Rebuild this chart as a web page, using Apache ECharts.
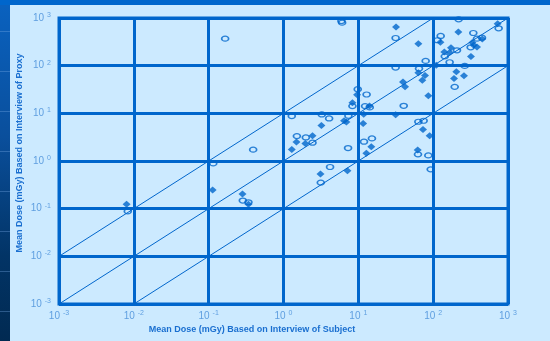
<!DOCTYPE html>
<html>
<head>
<meta charset="utf-8">
<script src="https://cdn.jsdelivr.net/npm/echarts@6/dist/echarts.min.js"></script>
<style>
html,body{margin:0;padding:0;width:550px;height:341px;overflow:hidden;background:#0066cc;}
#frame{position:absolute;left:0;top:0;width:550px;height:341px;
 background:linear-gradient(to bottom,#0a62c0 0%,#0a4f9c 40%,#023466 75%,#012a52 100%);}
#stripes{position:absolute;left:0;top:0;width:10px;height:341px;
 background:repeating-linear-gradient(to bottom,transparent 0px,transparent 31px,rgba(120,170,230,0.35) 31px,rgba(120,170,230,0.35) 32px,transparent 32px,transparent 40px);}
#topbar{position:absolute;left:0;top:0;width:550px;height:5px;background:#0066cc;}
#panel{position:absolute;left:10px;top:5px;width:540px;height:336px;background:#cceaff;}
#chart{position:absolute;left:0;top:0;width:550px;height:341px;}
</style>
</head>
<body>
<div id="frame"></div>
<div id="stripes"></div>
<div id="topbar"></div>
<div id="panel"></div>
<div id="chart"></div>
<script>
// Tick exponents (10^n)
var tickExponents = [-3, -2, -1, 0, 1, 2, 3];

// Filled diamonds: subject dose (x) vs proxy dose (y), mGy
var diamondX = [0.008, 0.113, 0.283, 0.34, 1.29, 1.49, 1.96, 2.44, 3.21, 3.12, 6.45, 6.93, 7.15, 8.34, 9.62, 11.8, 11.6, 14.1, 14.9, 12.8, 31.5, 31.9, 39.5, 42.1, 63.4, 63.4, 71.6, 77.8, 73.1, 86.2, 62.1, 89.7, 110, 125, 141, 166, 173, 204, 190, 217, 258, 320, 334, 348, 385, 453, 727];
var diamondY = [0.124, 0.247, 0.203, 0.124, 1.75, 2.49, 2.34, 3.39, 5.57, 0.533, 6.98, 6.55, 0.626, 16.6, 24.4, 9.62, 6.14, 14.2, 1.99, 1.45, 9.31, 649, 45.7, 35.9, 290, 70.6, 49.5, 62.1, 4.59, 23.3, 1.70, 3.39, 102, 310, 194, 188, 239, 74.1, 53.7, 509, 61.1, 155, 305, 268, 247, 363, 760];

// Open circles
var circleX = [0.0083, 0.115, 0.166, 0.286, 0.34, 0.393, 1.29, 1.51, 1.99, 2.44, 3.15, 3.25, 4.07, 4.19, 5.94, 6.07, 7.29, 7.37, 8.34, 9.82, 12.9, 12.3, 14.2, 11.9, 15.2, 31.5, 31.5, 40.4, 63.4, 74.6, 62.7, 86.2, 92.7, 64.7, 79.4, 114, 126, 143, 166, 194, 208, 219, 264, 317, 344, 385, 449, 750];
var circleY = [0.088, 0.89, 369, 0.148, 0.136, 1.73, 8.74, 3.33, 3.12, 2.42, 0.352, 9.47, 7.81, 0.748, 865, 798, 1.87, 8.87, 14.2, 32.1, 24.8, 14.2, 13.3, 2.54, 2.98, 381, 91.2, 14.4, 6.65, 6.98, 1.38, 1.31, 0.668, 86.9, 126, 341, 420, 157, 118, 35.9, 210, 937, 98.8, 243, 485, 369, 387, 608];

// Reference lines: y = 10x, y = x, y = x/10
var refLineFactors = [10, 1, 0.1];

var axisMin = Math.pow(10, tickExponents[0]);
var axisMax = Math.pow(10, tickExponents[tickExponents.length - 1]);

function zip(xs, ys) { return xs.map(function (x, i) { return [x, ys[i]]; }); }

function refLine(f) {
  var x0 = Math.max(axisMin, axisMin / f);
  var x1 = Math.min(axisMax, axisMax / f);
  return [[x0, x0 * f], [x1, x1 * f]];
}

function fmt(v) {
  var e = Math.round(Math.log10(v));
  return '{a|10}{b|' + e + '}';
}

var labelRich = {
  a: { fontSize: 10, color: '#5f9fe0', fontFamily: 'Liberation Sans, Arial, sans-serif' },
  b: { fontSize: 7, color: '#5f9fe0', fontFamily: 'Liberation Sans, Arial, sans-serif', padding: [0, 0, 6, 3] }
};

var BLUE = '#0066cc';

var series = [];
refLineFactors.forEach(function (f) {
  series.push({
    type: 'line', data: refLine(f), symbol: 'none', silent: true,
    lineStyle: { color: BLUE, width: 1 }, z: 1
  });
});
series.push({
  type: 'scatter', data: zip(circleX, circleY), symbol: 'circle', symbolSize: [7, 5],
  itemStyle: { color: 'rgba(0,0,0,0)', borderColor: BLUE, borderWidth: 1.4 }, z: 3
});
series.push({
  type: 'scatter', data: zip(diamondX, diamondY), symbol: 'diamond', symbolSize: [8, 7],
  itemStyle: { color: BLUE }, z: 4
});

var chart = echarts.init(document.getElementById('chart'), null, { renderer: 'canvas' });
chart.setOption({
  backgroundColor: 'transparent',
  animation: false,
  grid: { left: 59, right: 42, top: 18, bottom: 37, show: true, borderColor: BLUE, borderWidth: 3, backgroundColor: 'transparent' },
  xAxis: {
    type: 'log', logBase: 10, min: axisMin, max: axisMax,
    axisLine: { show: false }, axisTick: { show: false },
    splitLine: { show: true, lineStyle: { color: BLUE, width: 3 } },
    axisLabel: { formatter: fmt, rich: labelRich, margin: 6, showMinLabel: true, showMaxLabel: true }
  },
  yAxis: {
    type: 'log', logBase: 10, min: axisMin, max: axisMax,
    axisLine: { show: false }, axisTick: { show: false },
    splitLine: { show: true, lineStyle: { color: BLUE, width: 3 } },
    axisLabel: { formatter: fmt, rich: labelRich, margin: 8, showMinLabel: true, showMaxLabel: true }
  },
  graphic: [
    { type: 'text', x: 252, y: 330, style: { text: 'Mean Dose (mGy) Based on Interview of Subject', fill: '#1a6fd0', font: 'bold 9px "Liberation Sans", Arial, sans-serif', textAlign: 'center', textVerticalAlign: 'middle' } },
    { type: 'text', x: 20, y: 153, rotation: Math.PI / 2, style: { text: 'Mean Dose (mGy) Based on Interview of Proxy', fill: '#1a6fd0', font: 'bold 9px "Liberation Sans", Arial, sans-serif', textAlign: 'center', textVerticalAlign: 'middle' } }
  ],
  series: series
});
</script>
</body>
</html>
